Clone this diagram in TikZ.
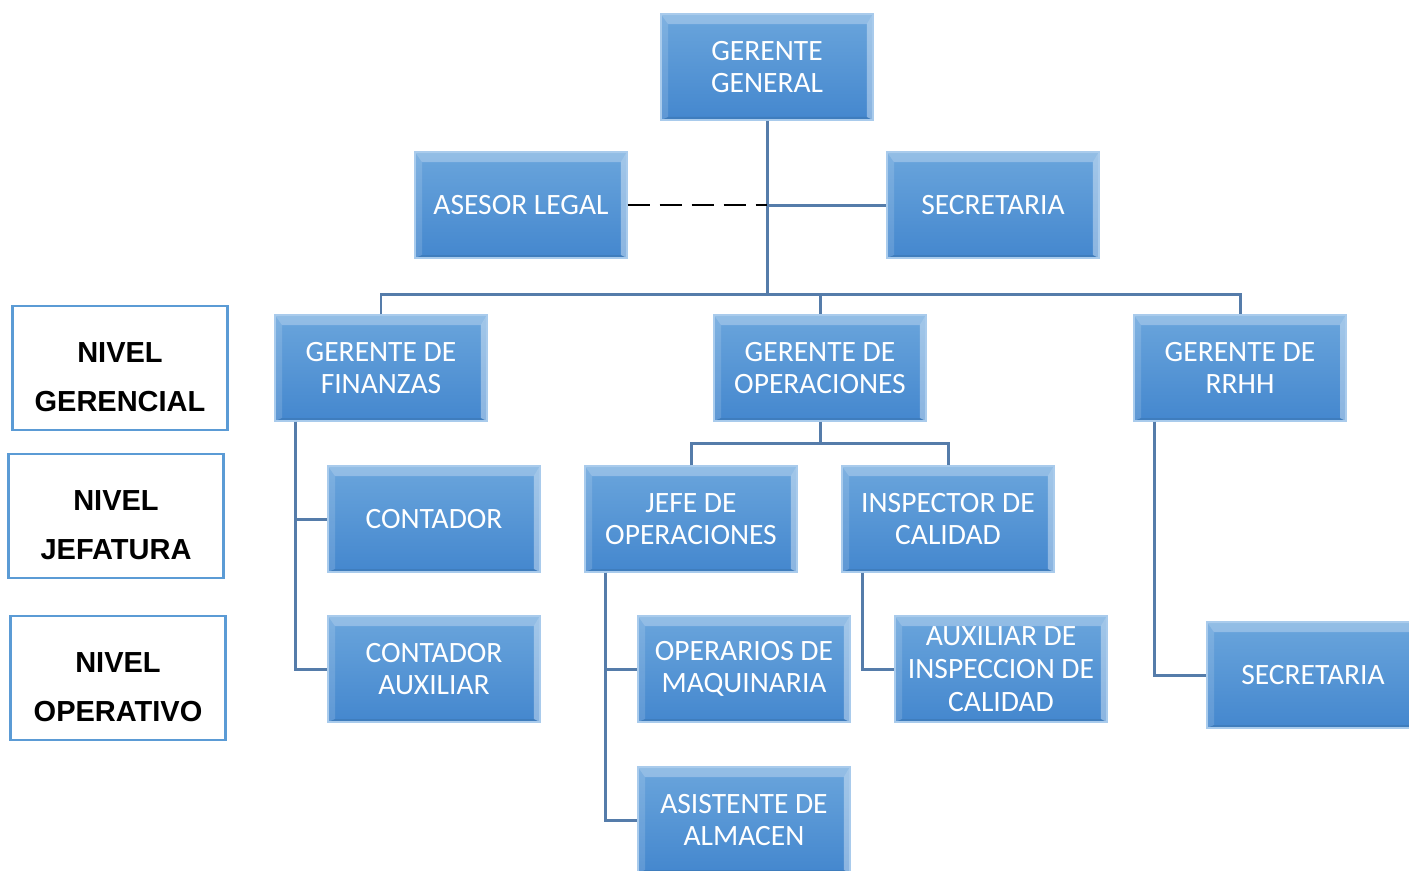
\documentclass[tikz,border=0pt]{standalone}
\usepackage{fontspec}
\setmainfont{Carlito}
\newfontfamily\arialbold{Liberation Sans}
\usepackage{tikz}
\usetikzlibrary{calc}
\definecolor{boxtop}{HTML}{6AA5DC}
\definecolor{boxbot}{HTML}{4487CE}
\definecolor{boxedge}{HTML}{A9CBEC}
\definecolor{linkcol}{HTML}{557CAA}
\definecolor{levelcol}{HTML}{5B9BD5}
\tikzset{
  bisel/.style = {path picture={
      \coordinate (nw) at (path picture bounding box.north west);
      \coordinate (ne) at (path picture bounding box.north east);
      \coordinate (sw) at (path picture bounding box.south west);
      \coordinate (se) at (path picture bounding box.south east);
      \fill[white, opacity=0.28] (nw) -- (ne) -- ($(ne)+(-0.12cm,-0.2cm)$) -- ($(nw)+(0.14cm,-0.2cm)$) -- cycle;
      \fill[white, opacity=0.14] (nw) -- ($(nw)+(0.14cm,-0.2cm)$) -- ($(sw)+(0.14cm,0.06cm)$) -- (sw) -- cycle;
      \fill[white, opacity=0.38] (ne) -- ($(ne)+(-0.12cm,-0.2cm)$) -- ($(se)+(-0.12cm,0.06cm)$) -- (se) -- cycle;
      \fill[black, opacity=0.08] (sw) -- ($(sw)+(0.14cm,0.06cm)$) -- ($(se)+(-0.12cm,0.06cm)$) -- (se) -- cycle;
  }},
  cargo/.style = {rectangle, bisel, top color=boxtop, bottom color=boxbot, draw=boxedge, line width=0.8pt, align=center, text=white, font=\fontsize{16.8}{18.6}\selectfont, minimum width=4.24cm, minimum height=2.12cm, inner sep=2pt},
  nivel/.style = {rectangle, draw=levelcol, line width=1.4pt, fill=white, align=center, font=\fontsize{16.5}{27.9}\selectfont\arialbold\bfseries, minimum width=4.3cm, minimum height=2.48cm},
  enlace/.style = {draw=linkcol, line width=1.7pt}
}

\begin{document}
\begin{tikzpicture}[x=0.02cm, y=-0.02cm]
    \clip (0,0) rectangle (1409,870);
    % cargos
    \node[cargo] (gg) at (767,67) {GERENTE\\GENERAL};
    \node[cargo] (asesor) at (521,205) {ASESOR LEGAL};
    \node[cargo] (secA) at (993,205) {SECRETARIA};
    \node[cargo] (finanzas) at (381,368) {GERENTE DE\\FINANZAS};
    \node[cargo] (operaciones) at (820,368) {GERENTE DE\\OPERACIONES};
    \node[cargo] (rrhh) at (1240,368) {GERENTE DE\\RRHH};
    \node[cargo] (contador) at (434,519) {CONTADOR};
    \node[cargo] (jefe) at (691,519) {JEFE DE\\OPERACIONES};
    \node[cargo] (inspector) at (948,519) {INSPECTOR DE\\CALIDAD};
    \node[cargo] (contaux) at (434,669) {CONTADOR\\AUXILIAR};
    \node[cargo] (operarios) at (744,669) {OPERARIOS DE\\MAQUINARIA};
    \node[cargo] (auxinsp) at (1001,669) {AUXILIAR DE\\INSPECCION DE\\CALIDAD};
    \node[cargo] (secB) at (1313,675) {SECRETARIA};
    \node[cargo] (asistente) at (744,820) {ASISTENTE DE\\ALMACEN};

    % niveles
    \node[nivel] (nivelA) at (120,368) {\rule{0pt}{0.76cm}NIVEL\\GERENCIAL};
    \node[nivel] (nivelB) at (116,516) {\rule{0pt}{0.76cm}NIVEL\\JEFATURA};
    \node[nivel] (nivelC) at (118,678) {\rule{0pt}{0.76cm}NIVEL\\OPERATIVO};

    % enlaces
    \coordinate (busA) at (767,294);
    \coordinate (busB) at (820,443);
    \draw[enlace] (gg.south) -- (busA);
    \draw[enlace] (finanzas.north) |- (busA) -| (rrhh.north);
    \draw[enlace] (busA) -| (operaciones.north);
    \draw[black, line width=1.6pt, dash pattern=on 0.44cm off 0.2cm] (asesor.east) -- (gg.south |- asesor.east);
    \draw[enlace] (gg.south |- secA.west) -- (secA.west);
    \draw[enlace] (operaciones.south) -- (busB);
    \draw[enlace] (jefe.north) |- (busB) -| (inspector.north);
    \draw[enlace] ([xshift=0.42cm]finanzas.south west) |- (contador.west);
    \draw[enlace] ([xshift=0.42cm]finanzas.south west) |- (contaux.west);
    \draw[enlace] ([xshift=0.42cm]jefe.south west) |- (operarios.west);
    \draw[enlace] ([xshift=0.42cm]jefe.south west) |- (asistente.west);
    \draw[enlace] ([xshift=0.42cm]inspector.south west) |- (auxinsp.west);
    \draw[enlace] ([xshift=0.42cm]rrhh.south west) |- (secB.west);
\end{tikzpicture}
\end{document}
